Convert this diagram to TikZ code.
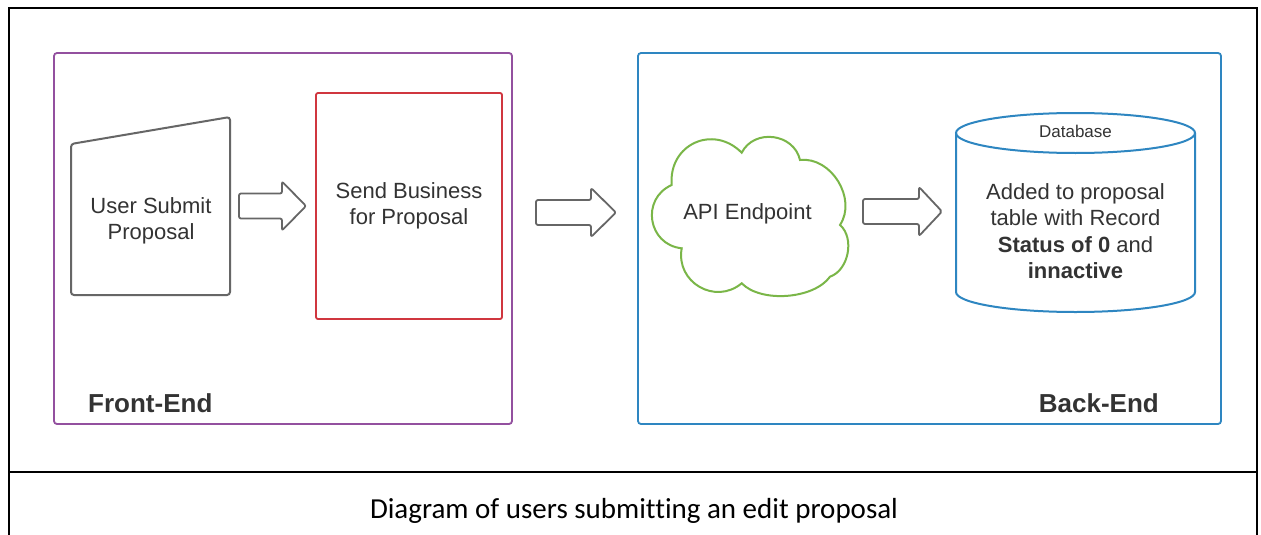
\documentclass[tikz,border=0pt]{standalone}
\usepackage{fontspec}
\setmainfont{Liberation Sans}
\newfontfamily\capfont[Ligatures=NoCommon]{Carlito}
\usetikzlibrary{calc}
\definecolor{fepurple}{HTML}{93509F}
\definecolor{bered}{HTML}{D0363F}
\definecolor{beblue}{HTML}{2E86C1}
\definecolor{cloudgreen}{HTML}{7AB648}
\definecolor{shapegray}{HTML}{666666}
\definecolor{txtgray}{HTML}{333333}
\tikzset{
  frameline/.style={draw=black, line width=2.5pt},
  groupbox/.style={draw=#1, line width=1.8pt, rounded corners=3pt, inner sep=0pt, outer sep=0pt, anchor=north west},
  shapeline/.style={draw=shapegray, line width=2pt, rounded corners=3pt},
  arrowline/.style={draw=shapegray, line width=1.8pt, rounded corners=2pt, line join=round},
  cloudline/.style={draw=cloudgreen, line width=2pt},
  dbline/.style={draw=beblue, line width=2pt},
  txt/.style={text=txtgray, align=center, font=\fontsize{22}{26.5}\selectfont, inner sep=0pt},
  smalltxt/.style={text=txtgray, align=center, font=\fontsize{17}{20}\selectfont, inner sep=0pt},
  grouplabel/.style={text=txtgray, font=\fontsize{26}{30}\selectfont\bfseries, inner sep=0pt},
  captiontxt/.style={text=black, font=\capfont\fontsize{29}{34}\selectfont, inner sep=0pt}
}
% x start, y centre, length, head length
\newcommand{\blockarrow}[4]{%
  \draw[arrowline] ({#1},{#2-12.5}) -- ({#1+#3-#4},{#2-12.5}) -- ({#1+#3-#4},{#2-24.5})
    -- ({#1+#3},{#2}) -- ({#1+#3-#4},{#2+24.5}) -- ({#1+#3-#4},{#2+12.5}) -- ({#1},{#2+12.5}) -- cycle;}
\begin{document}
\begin{tikzpicture}[x=1pt,y=-1pt]
\clip (0,0) rectangle (1261,535);
\useasboundingbox (0,0) rectangle (1261,535);
\fill[white] (0,0) rectangle (1261,535);

% outer frame
\draw[frameline] (9,545) -- (9,8) -- (1257,8) -- (1257,545);
\draw[black, line width=2pt] (9,471.5) -- (1257,471.5);

% group boxes
\node[groupbox=fepurple, minimum width=458pt, minimum height=371pt] (fe) at (54,53) {};
\node[groupbox=beblue, minimum width=583pt, minimum height=371pt] (be) at (638,53) {};
\node[grouplabel, anchor=west] (felabel) at (88,403) {Front-End};
\node[grouplabel, anchor=east] (belabel) at (1159,403) {Back-End};

% manual input shape
\coordinate (uspTL) at (71,144);
\coordinate (uspTR) at (230,117);
\coordinate (uspBR) at (230,295);
\coordinate (uspBL) at (71,295);
\draw[shapeline] (uspTL) -- (uspTR) -- (uspBR) -- (uspBL) -- cycle;
\node[txt] (usp) at (151,221) {User Submit\\Proposal};

% send business box
\node[draw=bered, line width=1.8pt, rounded corners=2pt, minimum width=186pt, minimum height=226pt, anchor=north west, inner sep=0pt, outer sep=0pt] (sbbox) at (316,93) {};
\node[txt] (sb) at (409,206) {Send Business\\for Proposal};

% cloud
\draw[cloudline] (671.7,185)
  to[bend left=70, looseness=1.35] (741.7,152.7)
  to[bend left=70, looseness=1.2] (800,160)
  to[bend left=65, looseness=1.05] (840,225)
  to[bend left=60, looseness=0.96] (830,276.7)
  to[bend left=50, looseness=0.8] (741.7,283.3)
  to[bend left=70, looseness=1.27] (681.7,248.3)
  to[bend left=75, looseness=1.36] (671.7,185) -- cycle;
\node[txt] (api) at (747.5,214) {API Endpoint};

% database cylinder
\draw[dbline] (956,133) -- (956,292) arc[start angle=180, end angle=360, x radius=119.5pt, y radius=20pt] -- (1195,133);
\draw[dbline] (1075.5,133) ellipse [x radius=119.5pt, y radius=20pt];
\node[smalltxt] (dblabel) at (1075.5,131) {Database};
\node[txt] (db) at (1075.5,231) {Added to proposal\\table with Record\\\textbf{Status of 0} and\\\textbf{innactive}};

% block arrows
\blockarrow{239}{206}{67}{24}
\blockarrow{536}{212.5}{80}{25}
\blockarrow{863}{211.5}{79}{23}

% caption
\node[captiontxt] (caption) at (634,511) {Diagram of users submitting an edit proposal};
\end{tikzpicture}
\end{document}
